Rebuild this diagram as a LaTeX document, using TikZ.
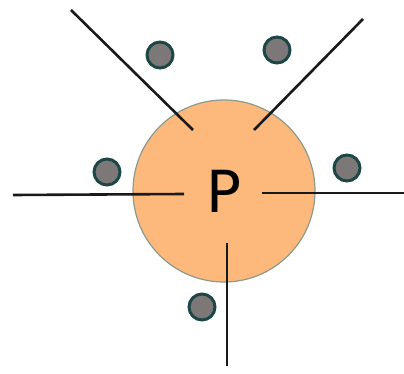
\documentclass[tikz,border=0pt]{standalone}
\usepackage{fontspec}
\setsansfont{DejaVu Sans}
\usepackage{xcolor}
\usepackage{tikz}
\usetikzlibrary{positioning}

\definecolor{peach}{HTML}{FDB97C}
\definecolor{rimgrey}{HTML}{8A9A8C}
\definecolor{dotgrey}{HTML}{7C7878}
\definecolor{dotrim}{HTML}{1E4646}

\tikzset{
  atom/.style={circle, draw=rimgrey, line width=1.2pt, fill=peach,
               minimum size=182pt, inner sep=0pt,
               font=\sffamily\fontsize{58}{58}\selectfont},
  ion/.style={circle, draw=dotrim, line width=3pt, fill=dotgrey,
              minimum size=26pt, inner sep=0pt},
  bond/.style={line width=2.6pt, black!90}
}

\begin{document}
\begin{tikzpicture}[x=1pt, y=-1pt]
  \useasboundingbox (0,0) rectangle (404,374);

  \node[atom] (p) at (224,191) {P};

  % free ends of the five bonds
  \coordinate (ulout) at (71,10);    \coordinate (ulin) at (193,130);
  \coordinate (urout) at (363,19);   \coordinate (urin) at (254,130);
  \coordinate (lout)  at (13,195);   \coordinate (lin)  at (184,194);
  \coordinate (rout)  at (404,193);  \coordinate (rin)  at (262,193);
  \coordinate (bout)  at (227,366);  \coordinate (bin)  at (227,243);

  \draw[bond] (ulout) -- (ulin);
  \draw[bond] (urout) -- (urin);
  \draw[bond] (lout) -- (lin);
  \draw[bond] (rin) -- (rout);
  \draw[bond] (bin) -- (bout);

  \node[ion] (ion1) at (160,55) {};
  \node[ion] (ion2) at (277,50) {};
  \node[ion] (ion3) at (107,172) {};
  \node[ion] (ion4) at (347,168) {};
  \node[ion] (ion5) at (202,307) {};
\end{tikzpicture}
\end{document}
